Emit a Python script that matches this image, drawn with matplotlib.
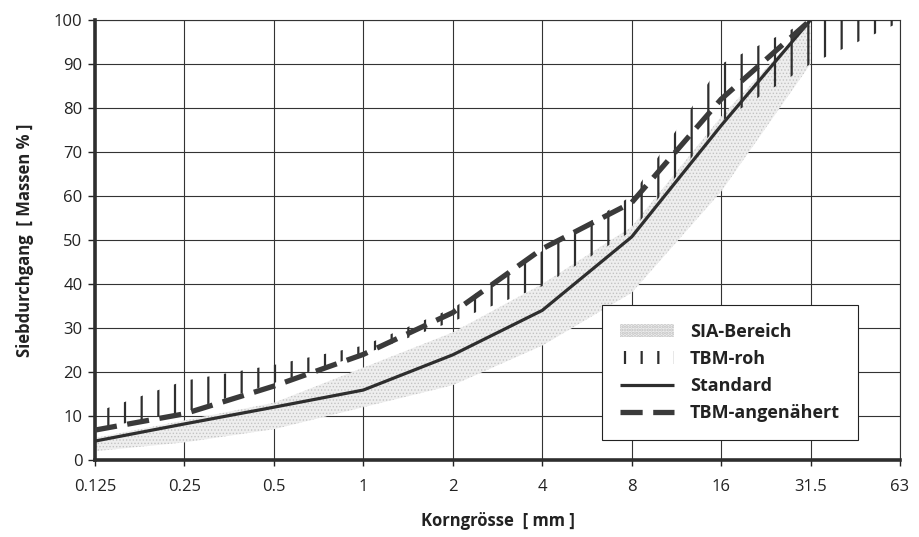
import matplotlib
matplotlib.use("Agg")
import matplotlib.pyplot as plt
import numpy as np

# ---- data ----
sizes = ["0.125", "0.25", "0.5", "1", "2", "4", "8", "16", "31.5", "63"]

sia_lower = [2, 4, 7, 12, 17, 26, 38, 61, 90]
sia_upper = [5, 9, 13, 21, 29, 40, 53, 78, 100]

tbm_roh_lower = [7, 11, 17.5, 24, 31.5, 39.5, 52, 77, 90, 99.5]
tbm_roh_upper = [10.8, 18, 21.6, 26, 34.5, 47.5, 60, 90, 100, 100]

standard = [4.3, 8.2, 12, 15.9, 23.9, 34, 50.7, 76, 100]
tbm_angenaehert = [6.8, 10.5, 16.8, 24, 33.5, 48, 58.5, 82, 100]

plt.rcParams['font.family'] = ['Open Sans', 'DejaVu Sans']
plt.rcParams['hatch.linewidth'] = 1.6

fig = plt.figure(figsize=(9.2, 5.37), dpi=100)
ax = fig.add_axes([95/920, 77/537, 805/920, 440/537])

x_all = np.arange(len(sizes))
x_sia = np.arange(len(sia_lower))
x_std = np.arange(len(standard))

ink = '#2e2e2e'

# SIA band (stipple)
sia = ax.fill_between(x_sia, sia_lower, sia_upper, facecolor='#eeeeee',
                      edgecolor='#c2c2c2', hatch='.....', linewidth=0,
                      label='SIA-Bereich', zorder=2)
if hasattr(sia, 'set_hatch_linewidth'):
    sia.set_hatch_linewidth(0.6)

# TBM-roh band (vertical hatch)
roh = ax.fill_between(x_all, tbm_roh_lower, tbm_roh_upper, facecolor='none',
                      edgecolor=ink, hatch='|', linewidth=0,
                      label='TBM-roh', zorder=3)
if hasattr(roh, 'set_hatch_linewidth'):
    roh.set_hatch_linewidth(1.6)

ax.plot(x_std, standard, color=ink, lw=2.3, label='Standard', zorder=4,
        solid_capstyle='butt')
ax.plot(x_std, tbm_angenaehert, color='#3a3a3a', lw=3.8, label='TBM-angenähert',
        dashes=(4.2, 2.0), zorder=5, dash_capstyle='butt')

ax.set_xlim(0, len(sizes) - 1)
ax.set_ylim(0, 100)
ax.set_xticks(x_all)
ax.set_xticklabels(sizes)
ax.set_yticks(np.arange(0, 101, 10))

ax.grid(True, color='#333333', lw=0.8)
ax.set_axisbelow(True)

for s in ['top', 'right']:
    ax.spines[s].set_linewidth(0.8)
    ax.spines[s].set_color('#333333')
for s in ['left', 'bottom']:
    ax.spines[s].set_linewidth(2.6)
    ax.spines[s].set_color(ink)

ax.tick_params(axis='y', length=5, width=1, pad=4, labelsize=12, colors='#222222')
ax.tick_params(axis='x', length=4, width=1, pad=10, labelsize=12, colors='#222222')

ax.set_xlabel('Korngrösse  [ mm ]', fontsize=12, fontweight='bold', color='#222222', labelpad=12)
ax.set_ylabel('Siebdurchgang  [ Massen % ]', fontsize=12, fontweight='bold', color='#222222', labelpad=14)

leg = ax.legend(loc='lower right', bbox_to_anchor=(0.948, 0.045), borderaxespad=0,
                frameon=True, fancybox=False, edgecolor='#222222', framealpha=1,
                prop={'weight': 'bold', 'size': 13}, handlelength=3.0,
                labelspacing=0.5, borderpad=1.0, handletextpad=0.9)
leg.get_frame().set_linewidth(0.8)
for t in leg.get_texts():
    t.set_color('#222222')

fig.savefig('out.png', dpi=100, facecolor='white')
